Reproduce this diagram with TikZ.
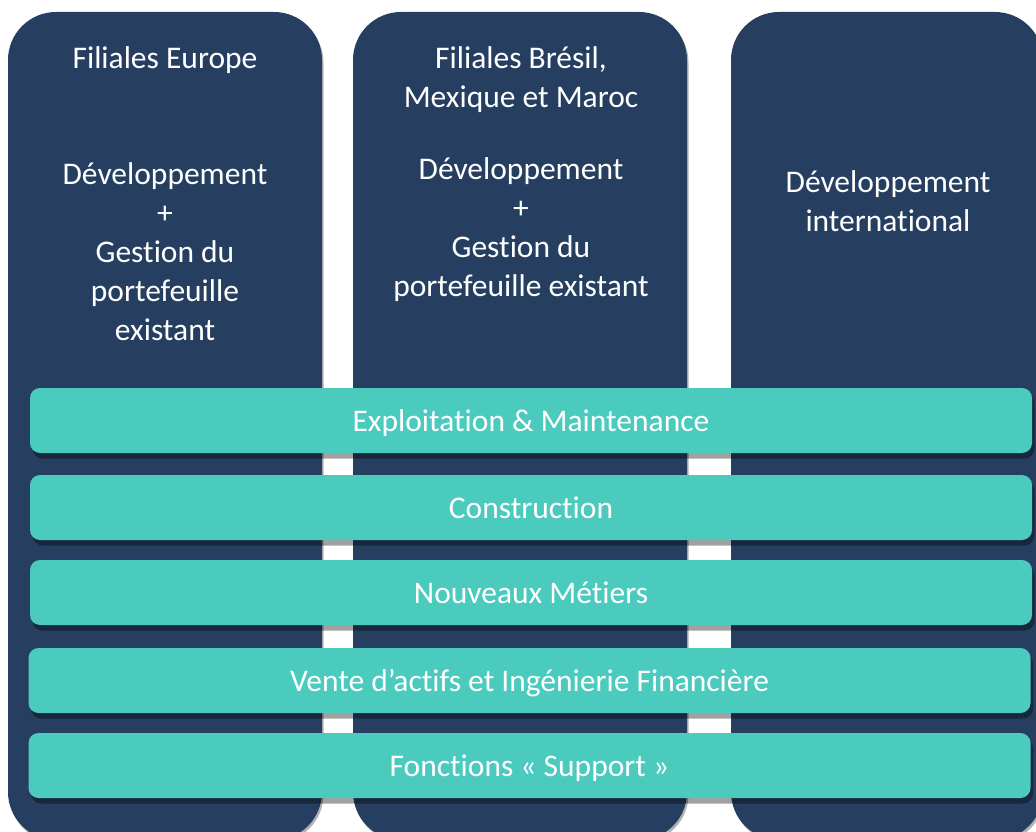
\documentclass[tikz,border=0pt]{standalone}
\usepackage{fontspec}
\setmainfont{Carlito}[Ligatures=NoCommon]
\usetikzlibrary{shadows}
\definecolor{navy}{HTML}{263F61}
\definecolor{teal}{HTML}{4BCABE}
\begin{document}
\begin{tikzpicture}[x=1pt,y=-1pt,
  colbox/.style={fill=navy, draw=none, rounded corners=48pt, inner sep=0pt,
    general shadow={fill=black, opacity=0.3, shadow xshift=1.5pt, shadow yshift=-2.5pt}},
  bar/.style={fill=teal, draw=none, rounded corners=10pt, inner sep=0pt,
    minimum height=65pt, text=white, font=\fontsize{31.5}{39}\selectfont,
    text height=21pt, text depth=0pt,
    general shadow={fill=black, opacity=0.37, shadow xshift=2.5pt, shadow yshift=-5.5pt}},
  label/.style={text=white, align=center, inner sep=0pt, font=\fontsize{31.5}{39}\selectfont}]
\useasboundingbox (0,0) rectangle (1036,832);
\clip (0,0) rectangle (1036,832);

% three columns
\node[colbox, minimum width=314pt, minimum height=828pt] (c1) at (165,426) {};
\node[colbox, minimum width=334pt, minimum height=828pt] (c2) at (520,426) {};
\node[colbox, minimum width=312pt, minimum height=828pt] (c3) at (887,426) {};

% column texts
\node[label] (t1) at (165,60) {Filiales Europe};
\node[label] (d1) at (165,252) {Développement\\+\\Gestion du\\portefeuille\\existant};
\node[label] (t2) at (521,80) {Filiales Brésil,\\Mexique et Maroc};
\node[label] (d2) at (521,230) {Développement\\+\\Gestion du\\portefeuille existant};
\node[label] (d3) at (888,201) {Développement\\international};

% horizontal bars
\node[bar, minimum width=1002pt] (b1) at (531,420.5) {Exploitation \& Maintenance};
\node[bar, minimum width=1002pt] (b2) at (531,507.5) {Construction};
\node[bar, minimum width=1002pt] (b3) at (531,592.5) {Nouveaux Métiers};
\node[bar, minimum width=1002pt] (b4) at (529.5,680.5) {Vente d’actifs et Ingénierie Financière};
\node[bar, minimum width=1002pt] (b5) at (529.5,765.5) {Fonctions « Support »};
\end{tikzpicture}
\end{document}
